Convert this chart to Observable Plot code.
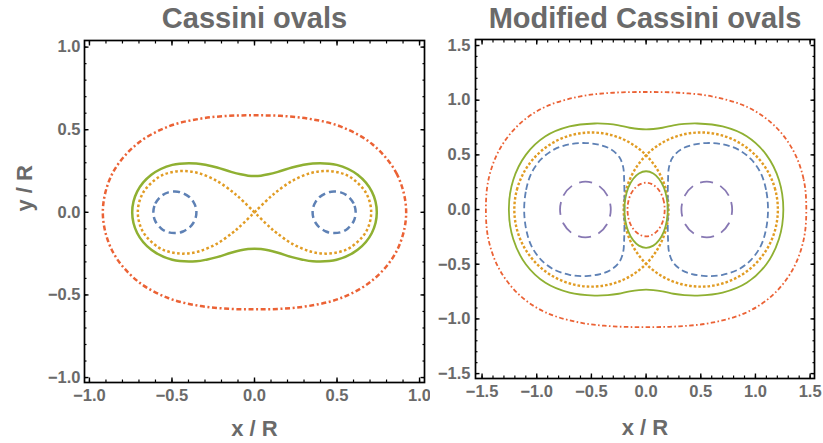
<!DOCTYPE html>
<html><head><meta charset="utf-8">
<script src="https://cdn.jsdelivr.net/npm/d3@7"></script>
<script src="https://cdn.jsdelivr.net/npm/@observablehq/plot@0.6"></script>
<style>
body{margin:0;background:#fff;}
#wrap{position:relative;width:823px;height:443px;overflow:hidden;font-family:"Liberation Sans",Arial,sans-serif;}
#left{position:absolute;left:0;top:0;}
#right{position:absolute;left:430px;top:0;}
svg{overflow:visible;}
</style></head><body>
<div id="wrap"><div id="left"></div><div id="right"></div></div>
<script>
// ---------------- data ----------------
const leftTitle = "Cassini ovals";
const rightTitle = "Modified Cassini ovals";
const xLabel = "x / R";
const yLabel = "y / R";

const leftMajorTicks = [-1, -0.5, 0, 0.5, 1];
const leftMinorTicks = [-1,-0.9,-0.8,-0.7,-0.6,-0.5,-0.4,-0.3,-0.2,-0.1,0,0.1,0.2,0.3,0.4,0.5,0.6,0.7,0.8,0.9,1];
const rightMajorTicks = [-1.5, -1, -0.5, 0, 0.5, 1, 1.5];
const rightMinorTicks = [-1.5,-1.4,-1.3,-1.2,-1.1,-1,-0.9,-0.8,-0.7,-0.6,-0.5,-0.4,-0.3,-0.2,-0.1,0,0.1,0.2,0.3,0.4,0.5,0.6,0.7,0.8,0.9,1,1.1,1.2,1.3,1.4,1.5];

// Left panel: first-quadrant traces (x from max to 0)
const leftRedQuarter = [[0.919,0],[0.863,0.231],[0.714,0.412],[0.520,0.520],[0.327,0.567],[0.156,0.584],[0,0.587]];
const leftGreenQuarter = [[0.741,0],[0.711,0.125],[0.625,0.227],[0.498,0.287],[0.353,0.296],[0.285,0.285],[0.227,0.271],[0.142,0.245],[0.084,0.230],[0.039,0.222],[0,0.22]];
// upper half of right lobe of the figure-eight, from its tip to the crossing
const leftOrangeLobeHalf = [[0.707,0],[0.675,0.119],[0.582,0.212],[0.514,0.240],[0.433,0.25],[0.339,0.237],[0.226,0.189],[0.137,0.127],[0.095,0.092],[0,0]];
// upper half of the small right oval
const leftBlueHalf = [[0.613,0],[0.601,0.053],[0.564,0.099],[0.522,0.121],[0.466,0.125],[0.433,0.116],[0.393,0.091],[0.372,0.066],[0.356,0.031],[0.352,0]];

// Right panel traces
const rightRedQuarter = [[1.465,0],[1.44,0.28],[1.34,0.55],[1.16,0.78],[0.92,0.94],[0.6,1.035],[0.3,1.068],[0,1.075]];
const rightGreenQuarter = [[1.255,0],[1.215,0.27],[1.1,0.5],[0.92,0.67],[0.7,0.76],[0.47,0.787],[0.35,0.783],[0.25,0.77],[0.15,0.748],[0,0.733]];
const rightOrangeHalf = [[1.205,0],[1.181,0.1825],[1.1105,0.3525],[0.9985,0.4985],[0.8525,0.6105],[0.6825,0.681],[0.5,0.705],[0.3175,0.681],[0.1475,0.6105],[0.0015,0.4985],[-0.1105,0.3525],[-0.181,0.1825],[-0.205,0]];
const rightBlueHalf = [[1.115,0],[1.097,0.18],[1.05,0.33],[0.96,0.46],[0.84,0.55],[0.7,0.597],[0.55,0.608],[0.42,0.59],[0.32,0.55],[0.245,0.48],[0.21,0.39],[0.2,0.25],[0.198,0.1],[0.198,0]];
const rightPurpleHalf = [[0.787,0],[0.756,0.1275],[0.671,0.221],[0.555,0.255],[0.439,0.221],[0.354,0.1275],[0.323,0]];
const rightInnerGreenQuarter = [[0.198,0],[0.19,0.1],[0.163,0.2],[0.119,0.28],[0.066,0.33],[0,0.35]];
const rightInnerRedQuarter = [[0.17,0],[0.163,0.07],[0.14,0.14],[0.098,0.2],[0.048,0.235],[0,0.245]];

// ---------------- helpers: mirror the traced pieces ----------------
const fromQuarter = q => [
  ...q,
  ...q.slice(0, -1).reverse().map(([x, y]) => [-x, y]),
  ...q.slice(1).map(([x, y]) => [-x, -y]),
  ...q.slice(1, -1).reverse().map(([x, y]) => [x, -y])
];
const fromHalf = h => [...h, ...h.slice(1, -1).reverse().map(([x, y]) => [x, -y])];
const lobe = h => [...h.slice().reverse(), ...h.slice(1).map(([x, y]) => [x, -y])];
const flipX = pts => pts.map(([x, y]) => [-x, y]);

const C = {blue:"#5E81B5", orange:"#E19C24", green:"#8FB032", red:"#EB6235", purple:"#8778B3"};
const gray = "#6a6a6a";
const font = "Liberation Sans, Arial, sans-serif";

function curve(pts, stroke, width, dash, closed = true) {
  return Plot.line(pts, {x: d => d[0], y: d => d[1], curve: closed ? "catmull-rom-closed" : "catmull-rom",
    stroke, strokeWidth: width, strokeDasharray: dash, strokeLinecap: "butt"});
}

function frameMarks(major, minor, labelPad) {
  const common = {label: null};
  const none = {fill: "none"};
  return [
    Plot.frame({stroke: "black", strokeWidth: 1.7}),
    Plot.axisX(major, {...common, ...none, anchor: "bottom", tickSize: -4.5, strokeWidth: 1.4}),
    Plot.axisX(major, {...common, ...none, anchor: "top", tickSize: -4.5, strokeWidth: 1.4}),
    Plot.axisY(major, {...common, ...none, anchor: "left", tickSize: -4.5, strokeWidth: 1.4}),
    Plot.axisY(major, {...common, ...none, anchor: "right", tickSize: -4.5, strokeWidth: 1.4}),
    Plot.axisX(minor, {...common, ...none, anchor: "bottom", tickSize: -2.5, strokeWidth: 1.2}),
    Plot.axisX(minor, {...common, ...none, anchor: "top", tickSize: -2.5, strokeWidth: 1.2}),
    Plot.axisY(minor, {...common, ...none, anchor: "left", tickSize: -2.5, strokeWidth: 1.2}),
    Plot.axisY(minor, {...common, ...none, anchor: "right", tickSize: -2.5, strokeWidth: 1.2}),
    Plot.axisX(major, {...common, anchor: "bottom", tickSize: 0, tickPadding: 7, tickFormat: d3.format(".1f"),
      fill: gray, fontSize: 16.5, fontWeight: "bold", fontFamily: font}),
    Plot.axisY(major, {...common, anchor: "left", tickSize: 0, tickPadding: labelPad, tickFormat: d3.format(".1f"),
      fill: gray, fontSize: 16.5, fontWeight: "bold", fontFamily: font})
  ];
}

// ---------------- left chart ----------------
const lw = 2.5;
const leftPlot = Plot.plot({
  width: 430, height: 443,
  marginLeft: 84, marginRight: 6, marginTop: 40, marginBottom: 61,
  x: {domain: [-1.03, 1.03]},
  y: {domain: [-1.03, 1.04]},
  style: {fontFamily: font, background: "white", overflow: "visible"},
  marks: [
    curve(fromQuarter(leftRedQuarter), C.red, lw, "5,2.6,2,2.6"),
    curve(fromQuarter(leftGreenQuarter), C.green, lw, null),
    curve(lobe(leftOrangeLobeHalf), C.orange, lw, "2.6,2.4", false),
    curve(flipX(lobe(leftOrangeLobeHalf)), C.orange, lw, "2.6,2.4", false),
    curve(fromHalf(leftBlueHalf), C.blue, lw, "7,4.2"),
    curve(flipX(fromHalf(leftBlueHalf)), C.blue, lw, "7,4.2"),
    ...frameMarks(leftMajorTicks, leftMinorTicks, 4),
    Plot.text([leftTitle], {frameAnchor: "top", lineAnchor: "middle", dy: -22, fontSize: 29, fontWeight: "bold", fill: gray, fontFamily: font}),
    Plot.text([xLabel], {frameAnchor: "bottom", lineAnchor: "middle", dy: 46, fontSize: 22, fontWeight: "bold", fill: gray, fontFamily: font}),
    Plot.text([yLabel], {frameAnchor: "left", lineAnchor: "middle", dx: -60, rotate: -90, fontSize: 22, fontWeight: "bold", fill: gray, fontFamily: font})
  ]
});
document.getElementById("left").append(leftPlot);

// ---------------- right chart ----------------
const rw = 1.8;
const rightPlot = Plot.plot({
  width: 393, height: 443,
  marginLeft: 45, marginRight: 9, marginTop: 39, marginBottom: 65,
  x: {domain: [-1.56, 1.54]},
  y: {domain: [-1.545, 1.555]},
  style: {fontFamily: font, background: "white", overflow: "visible"},
  marks: [
    curve(fromQuarter(rightRedQuarter), C.red, rw, "4.5,2.4,1.6,2.4"),
    curve(fromQuarter(rightGreenQuarter), C.green, rw, null),
    curve(fromHalf(rightOrangeHalf), C.orange, 2.4, "2.6,2"),
    curve(flipX(fromHalf(rightOrangeHalf)), C.orange, 2.4, "2.6,2"),
    curve(fromHalf(rightBlueHalf), C.blue, rw, "6.5,3.5"),
    curve(flipX(fromHalf(rightBlueHalf)), C.blue, rw, "6.5,3.5"),
    curve(fromHalf(rightPurpleHalf), C.purple, rw, "13,8"),
    curve(flipX(fromHalf(rightPurpleHalf)), C.purple, rw, "13,8"),
    curve(fromQuarter(rightInnerGreenQuarter), C.green, rw, null),
    curve(fromQuarter(rightInnerRedQuarter), C.red, rw, "4.5,2.4,1.6,2.4"),
    ...frameMarks(rightMajorTicks, rightMinorTicks, 5),
    Plot.text([rightTitle], {frameAnchor: "top", lineAnchor: "middle", dy: -21, fontSize: 29, fontWeight: "bold", fill: gray, fontFamily: font}),
    Plot.text([xLabel], {frameAnchor: "bottom", lineAnchor: "middle", dy: 49, fontSize: 22, fontWeight: "bold", fill: gray, fontFamily: font})
  ]
});
document.getElementById("right").append(rightPlot);
</script>
</body></html>
